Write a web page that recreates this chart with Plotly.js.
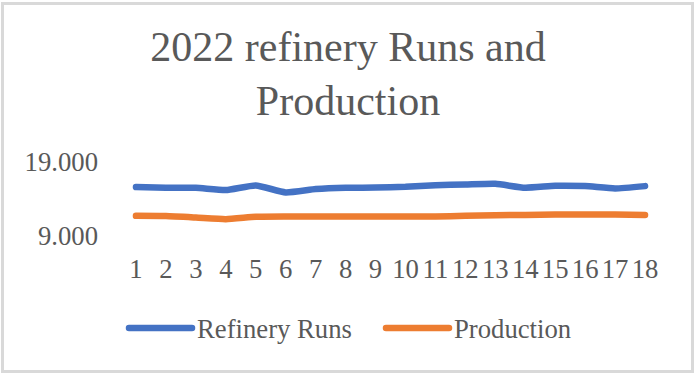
<!DOCTYPE html>
<html>
<head>
<meta charset="utf-8">
<script src="https://cdn.plot.ly/plotly-3.0.1.min.js"></script>
<style>
  html, body { margin: 0; padding: 0; background: #ffffff; }
  #wrap { position: relative; width: 696px; height: 375px; overflow: hidden; }
  #chart { position: absolute; left: 0; top: 0; width: 696px; height: 375px; }
  #frame { position: absolute; left: 1px; top: 2px; width: 687px; height: 365px;
           border: 3px solid #d9d9d9; pointer-events: none; }
  .scatterlayer .js-line, .legendlines path { stroke-linecap: round !important; stroke-linejoin: round !important; }
</style>
</head>
<body>
<div id="wrap">
  <div id="chart"></div>
  <div id="frame"></div>
</div>
<script>
const categories = ['1','2','3','4','5','6','7','8','9','10','11','12','13','14','15','16','17','18'];
const refineryRuns = [15610, 15520, 15520, 15210, 15830, 14890, 15340, 15520, 15540, 15650, 15870, 15960, 16050, 15520, 15790, 15740, 15430, 15740];
const production = [11720, 11690, 11500, 11280, 11590, 11630, 11630, 11630, 11630, 11630, 11630, 11720, 11810, 11850, 11900, 11900, 11900, 11850];
const yTicks = [9000, 19000];

const FONT = 'Liberation Serif, Times New Roman, serif';
const TXT = '#595959';

const traces = [
  { x: categories, y: refineryRuns, name: 'Refinery Runs', type: 'scatter', mode: 'lines',
    line: { color: '#4472c4', width: 6.5, shape: 'spline', smoothing: 0.5 } },
  { x: categories, y: production, name: 'Production', type: 'scatter', mode: 'lines',
    line: { color: '#ed7d31', width: 6.5, shape: 'spline', smoothing: 0.5 } }
];

const layout = {
  width: 696, height: 375,
  margin: { l: 121, r: 36, t: 162, b: 139, pad: 0 },
  paper_bgcolor: '#ffffff', plot_bgcolor: '#ffffff',
  separators: ',.',
  font: { family: FONT, color: TXT, size: 26.7 },
  title: { text: '2022 refinery Runs and<br>Production', font: { family: FONT, size: 42, color: TXT },
           x: 0.5, xref: 'container', xanchor: 'center', y: 0.838, yref: 'container', yanchor: 'top' },
  xaxis: { type: 'category', range: [-0.5, 17.5], tickmode: 'array', tickvals: categories, ticktext: categories,
           showgrid: false, zeroline: false, showline: false,
           ticks: '', tickfont: { family: FONT, size: 26.7, color: TXT }, ticklabelstandoff: 14, fixedrange: true },
  yaxis: { range: [9000, 19000], tickvals: yTicks, tickformat: ',', showgrid: true, gridcolor: '#d9d9d9', gridwidth: 3,
           zeroline: false, showline: false, ticks: '', tickfont: { family: FONT, size: 26.7, color: TXT },
           ticklabelstandoff: 22, fixedrange: true },
  showlegend: true,
  legend: { orientation: 'h', xref: 'container', x: 124 / 696, xanchor: 'left', yref: 'container', y: 0.125, yanchor: 'middle',
            font: { family: FONT, size: 26.7, color: TXT }, itemwidth: 63, entrywidth: 179, entrywidthmode: 'pixels',
            bgcolor: 'rgba(0,0,0,0)' }
};

Plotly.newPlot('chart', traces, layout, { staticPlot: true, displayModeBar: false }).then(function () {
  document.querySelectorAll('.legendlines path').forEach(function (p) { p.setAttribute('d', 'M5,0h63'); });
});
</script>
</body>
</html>
